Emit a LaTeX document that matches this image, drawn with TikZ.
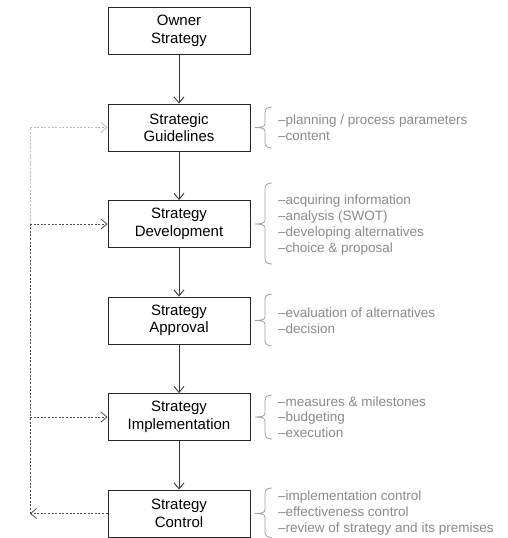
\documentclass[tikz,border=0pt]{standalone}
\usepackage{fontspec}
\setmainfont{Liberation Sans}
\usetikzlibrary{arrows.meta}

\definecolor{boxline}{HTML}{262626}
\definecolor{flowline}{HTML}{3A3A3A}
\definecolor{notegray}{HTML}{8A8A8A}
\definecolor{bracegray}{HTML}{A0A0A0}
\definecolor{loopdark}{HTML}{505050}
\definecolor{looplight}{HTML}{BDBDBD}

% curly brace opening to the right: #1 top, #2 bottom, #3 tip height
\newcommand\leftcurl[3]{%
  \draw[curl] (272,#1) .. controls (267,#1) and (265,#1+2) .. (265,#1+6)
    -- (265,#3-4) .. controls (265,#3-1) and (262,#3) .. (255,#3)
    .. controls (262,#3) and (265,#3+1) .. (265,#3+4)
    -- (265,#2-6) .. controls (265,#2-2) and (267,#2) .. (272,#2);}

\begin{document}
\begin{tikzpicture}[x=1pt,y=-1pt,
  stage/.style={draw=boxline,line width=0.9pt,minimum width=142pt,minimum height=47pt,
    inner sep=0pt,align=center,font=\fontsize{15}{17.5}\selectfont},
  flow/.style={draw=flowline,line width=0.9pt,-{Straight Barb[length=6pt,width=10pt]}},
  loopd/.style={draw=loopdark,line width=0.8pt,dash pattern=on 2pt off 1.6pt},
  loopl/.style={draw=looplight,line width=0.8pt,dash pattern=on 2pt off 1.6pt},
  looptip/.style={-{Straight Barb[length=6pt,width=10pt]}},
  note/.style={anchor=west,align=left,text=notegray,inner sep=0pt,
    font=\fontsize{13.5}{15.8}\selectfont},
  curl/.style={draw=bracegray,line width=0.8pt}]
\useasboundingbox (0,0) rectangle (507,538);

% process stages
\node[stage] (own)  at (179,31)    {Owner\\Strategy};
\node[stage] (gui)  at (179,127.5) {Strategic\\Guidelines};
\node[stage] (dev)  at (179,224)   {Strategy\\Development};
\node[stage] (app)  at (179,320.5) {Strategy\\Approval};
\node[stage] (imp)  at (179,417)   {Strategy\\Implementation};
\node[stage] (ctl)  at (179,513.5) {Strategy\\Control};

% main sequence
\draw[flow] (own) -- (gui);
\draw[flow] (gui) -- (dev);
\draw[flow] (dev) -- (app);
\draw[flow] (app) -- (imp);
\draw[flow] (imp) -- (ctl);

% feedback loop
\coordinate (lg) at (30,127.5);
\coordinate (ld) at (30,224);
\coordinate (li) at (30,417);
\coordinate (lc) at (30,513.5);
\draw[loopd,looptip] (ctl.west) -- (lc);
\draw[loopd] (lc) -- (ld);
\draw[loopl] (ld) -- (lg);
\draw[loopl,looptip] (lg) -- (gui.west);
\draw[loopd,looptip] (ld) -- (dev.west);
\draw[loopd,looptip] (li) -- (imp.west);

% annotations
\leftcurl{107}{148}{127.5}
\node[note] (ng) at (278,127.5) {–planning / process parameters\\–content};
\leftcurl{183}{264}{224}
\node[note] (nd) at (278,225) {–acquiring information\\–analysis (SWOT)\\–developing alternatives\\–choice \& proposal};
\leftcurl{294}{346}{320.5}
\node[note] (na) at (278,321) {–evaluation of alternatives\\–decision};
\leftcurl{395}{439}{417}
\node[note] (ni) at (278,417) {–measures \& milestones\\–budgeting\\–execution};
\leftcurl{488}{537.5}{513.5}
\node[note] (nc) at (278,513) {–implementation control\\–effectiveness control\\–review of strategy and its premises};
\end{tikzpicture}
\end{document}
